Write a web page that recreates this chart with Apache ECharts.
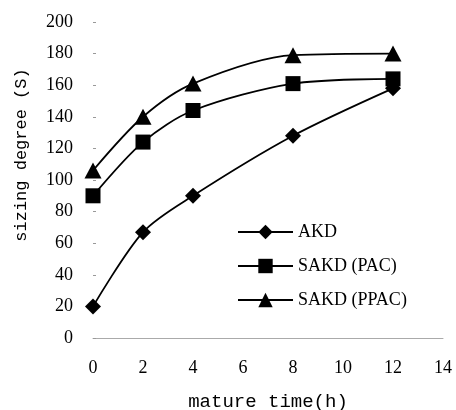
<!DOCTYPE html>
<html><head><meta charset="utf-8">
<script src="https://cdn.jsdelivr.net/npm/echarts@6/dist/echarts.min.js"></script>
<style>html,body{margin:0;padding:0;background:#fff;overflow:hidden}#c{width:456px;height:410px}</style>
</head><body><div id="c"></div>
<script>
const matureTime = [0, 2, 4, 8, 12];
const akd = [20, 67, 90, 128, 158];
const sakdPac = [90, 124, 144, 161, 164];
const sakdPpac = [106, 140, 161, 179, 180];
const seriesNames = ['AKD', 'SAKD (PAC)', 'SAKD (PPAC)'];
const seriesSymbols = ['diamond', 'rect', 'triangle'];

const serif = 'Liberation Serif';
const mono = 'Liberation Mono';
const allData = [akd, sakdPac, sakdPpac];

const chart = echarts.init(document.getElementById('c'), null, {renderer: 'canvas', width: 456, height: 410});
chart.setOption({
  backgroundColor: '#fff',
  animation: false,
  grid: {left: 93, width: 350, top: 22, height: 316, containLabel: false, outerBoundsMode: 'none'},
  legend: {
    orient: 'vertical', left: 232, top: 218, itemWidth: 55, itemHeight: 18, itemGap: 16,
    textStyle: {fontFamily: serif, fontSize: 18, color: '#000'},
    data: seriesNames
  },
  xAxis: {
    type: 'value', min: 0, max: 14, interval: 2,
    name: 'mature time(h)', nameLocation: 'middle', nameGap: 54,
    nameTextStyle: {fontFamily: mono, fontSize: 19, color: '#000'},
    axisLine: {show: true, lineStyle: {color: '#aaa', width: 1}},
    axisTick: {show: false},
    splitLine: {show: false},
    axisLabel: {fontFamily: serif, fontSize: 18, color: '#000', margin: 21}
  },
  yAxis: {
    type: 'value', min: 0, max: 200, interval: 20,
    name: 'sizing degree (S)', nameLocation: 'middle', nameGap: 63, nameRotate: 90,
    nameTextStyle: {fontFamily: mono, fontSize: 17, color: '#000', padding: [0,0,0,50]},
    axisLine: {show: false},
    axisTick: {show: true, inside: true, length: 3, lineStyle: {color: '#999'}},
    splitLine: {show: false},
    axisLabel: {fontFamily: serif, fontSize: 18, color: '#000', margin: 20}
  },
  series: seriesNames.map((n, i) => ({
    name: n, type: 'line', smooth: 0.3,
    symbol: seriesSymbols[i], symbolSize: i === 2 ? [17, 16] : (i === 1 ? 15 : 16),
    itemStyle: {color: '#000'},
    lineStyle: {color: '#000', width: 1.8},
    data: matureTime.map((t, j) => [t, allData[i][j]])
  }))
});
</script></body></html>
